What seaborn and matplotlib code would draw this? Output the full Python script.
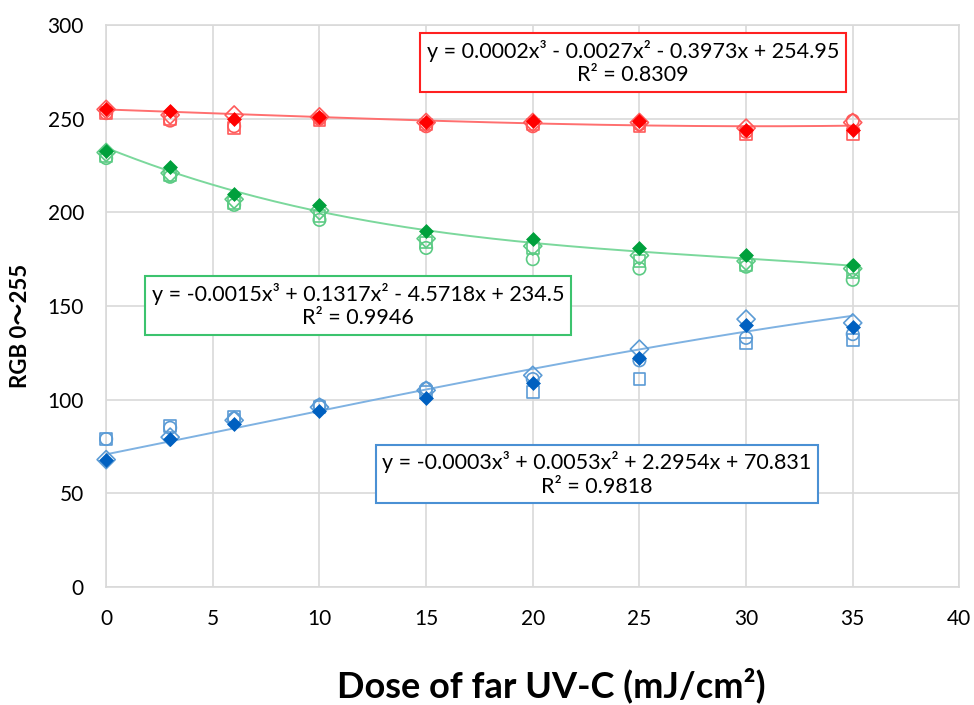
import numpy as np
import pandas as pd
import matplotlib.pyplot as plt
import seaborn as sns

dose = [0, 3, 6, 10, 15, 20, 25, 30, 35]

# four replicate measurements per channel (filled diamond, open diamond, circle, square)
red_fd = [255, 254, 250, 251, 248, 249, 249, 244, 244]
red_od = [255, 252, 252, 251, 248, 248, 248, 245, 248]
red_oc = [253, 249, 246, 250, 246, 246, 247, 243, 249]
red_os = [253, 250, 245, 249, 247, 247, 246, 242, 242]

green_fd = [233, 224, 210, 204, 190, 186, 181, 177, 172]
green_od = [232, 221, 207, 201, 186, 182, 177, 174, 170]
green_oc = [229, 219, 204, 196, 181, 175, 170, 171, 164]
green_os = [230, 220, 205, 198, 184, 181, 174, 172, 168]

blue_fd = [68, 79, 87, 94, 101, 109, 122, 140, 139]
blue_od = [68, 80, 89, 96, 105, 113, 127, 143, 141]
blue_oc = [79, 85, 90, 97, 106, 111, 121, 133, 135]
blue_os = [79, 86, 91, 96, 104, 104, 111, 130, 132]

# trendline coefficients (cubic, highest power first) and R² shown on the chart
red_fit = [0.0002, -0.0027, -0.3973, 254.95]
green_fit = [-0.0015, 0.1317, -4.5718, 234.5]
blue_fit = [-0.0003, 0.0053, 2.2954, 70.831]
red_r2, green_r2, blue_r2 = 0.8309, 0.9946, 0.9818

rows = []
for ch, reps in [('red', [red_fd, red_od, red_oc, red_os]),
                 ('green', [green_fd, green_od, green_oc, green_os]),
                 ('blue', [blue_fd, blue_od, blue_oc, blue_os])]:
    for rep, vals in zip(['fd', 'od', 'oc', 'os'], reps):
        for d, v in zip(dose, vals):
            rows.append({'dose': d, 'value': v, 'channel': ch, 'rep': rep})
df = pd.DataFrame(rows)

colors = {
    'red': {'fill': '#FF0000', 'open': '#FF5a5a', 'line': '#FF6f6f', 'box': '#FF2020'},
    'green': {'fill': '#00A03C', 'open': '#5CCB84', 'line': '#7BD89C', 'box': '#3CC36E'},
    'blue': {'fill': '#0060C0', 'open': '#5B9BD5', 'line': '#7FB2E2', 'box': '#4A90D4'},
}

sns.set_style('white')
plt.rcParams['font.family'] = ['Lato', 'Noto Sans CJK JP', 'DejaVu Sans']
plt.rcParams['text.color'] = 'black'
plt.rcParams['axes.labelcolor'] = 'black'

fig = plt.figure(figsize=(9.74, 7.05), dpi=100)
ax = fig.add_axes([0.109, 0.1674, 0.876, 0.797])

# trendlines
xs = np.linspace(0, 35, 200)
for ch, coef in [('red', red_fit), ('green', green_fit), ('blue', blue_fit)]:
    sns.lineplot(x=xs, y=np.polyval(coef, xs), color=colors[ch]['line'], lw=1.4, ax=ax, zorder=2)

marker_spec = {'os': ('s', 70), 'oc': ('o', 80), 'od': ('D', 85)}
for ch in ['red', 'green', 'blue']:
    for rep, (m, s) in marker_spec.items():
        sub = df[(df.channel == ch) & (df.rep == rep)]
        sns.scatterplot(data=sub, x='dose', y='value', marker=m, s=s, facecolor='none',
                        edgecolor=colors[ch]['open'], linewidth=1.2, ax=ax, zorder=3,
                        clip_on=False)
    sub = df[(df.channel == ch) & (df.rep == 'fd')]
    sns.scatterplot(data=sub, x='dose', y='value', marker='D', s=50, color=colors[ch]['fill'],
                    edgecolor=colors[ch]['fill'], linewidth=0.5, ax=ax, zorder=4,
                    clip_on=False)

ax.set_xlim(0, 40)
ax.set_ylim(0, 300)
ax.set_xticks(range(0, 41, 5))
ax.set_yticks(range(0, 301, 50))
ax.grid(True, color='#d9d9d9', lw=1.2)
for sp in ax.spines.values():
    sp.set_color('#d9d9d9')
    sp.set_linewidth(1.2)
ax.tick_params(axis='both', labelsize=15, labelcolor='black', length=0, pad=16)
ax.set_axisbelow(True)

ax.set_xlabel('Dose of far UV-C (mJ/cm²)', fontsize=26, fontweight='bold')
ax.xaxis.set_label_coords(0.522, -0.143)
ax.set_ylabel('RGB 0～255', fontsize=16, fontweight='bold')
ax.yaxis.set_label_coords(-0.088, 0.464)


def eq_label(coef, r2):
    a, b, c, d = coef
    def term(v, first=False):
        if first:
            return f'{v:g}'
        return ('+ ' if v >= 0 else '- ') + f'{abs(v):g}'
    return (f'y = {term(a, True)}x³ {term(b)}x² {term(c)}x {term(d)}\n'
            f'R² = {r2:.4f}')


for ch, coef, r2, pos in [('red', red_fit, red_r2, (24.7, 280)),
                          ('green', green_fit, green_r2, (11.8, 150.3)),
                          ('blue', blue_fit, blue_r2, (23.0, 60.3))]:
    ax.text(pos[0], pos[1], eq_label(coef, r2), ha='center', va='center', fontsize=15.5,
            multialignment='center', linespacing=1.2, zorder=5,
            bbox=dict(boxstyle='square,pad=0.3', fc='white', ec=colors[ch]['box'], lw=1.5))

fig.savefig('out.png', dpi=100)
